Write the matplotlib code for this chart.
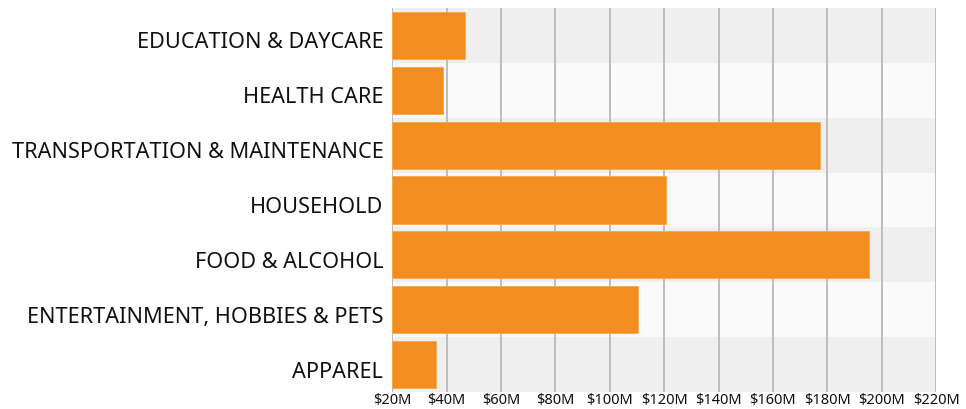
import matplotlib
matplotlib.use("Agg")
import matplotlib.pyplot as plt
from matplotlib.ticker import FuncFormatter
from matplotlib.transforms import ScaledTranslation

categories = ["EDUCATION & DAYCARE", "HEALTH CARE", "TRANSPORTATION & MAINTENANCE",
              "HOUSEHOLD", "FOOD & ALCOHOL", "ENTERTAINMENT, HOBBIES & PETS", "APPAREL"]
values = [46.7, 38.8, 177.5, 120.5, 195.4, 110.3, 36.2]
tick_values = [20, 40, 60, 80, 100, 120, 140, 160, 180, 200, 220]

plt.rcParams['font.family'] = ['Noto Sans', 'DejaVu Sans']

fig = plt.figure(figsize=(9.66, 4.09), dpi=100)
ax = fig.add_axes([392.3/966, 1-392/409, (936-392.3)/966, (392-8)/409])

n = len(categories)
ypos = list(range(n))
for i in ypos:
    ax.axhspan(i-0.5, i+0.5, color='#efefef' if i % 2 == 0 else '#fafafa', zorder=0, lw=0)
for t in tick_values:
    ax.axvline(t, color='#bdbdbd', lw=1.4, zorder=1)
ax.barh(ypos, [v - 20 for v in values], left=20, height=0.86, color='#f28e20',
        edgecolor='#f5a850', linewidth=0.6, zorder=2)

ax.set_xlim(20, 220)
ax.set_ylim(n-0.5, -0.5)
ax.set_yticks(ypos)
ax.set_yticklabels(categories, fontsize=15.6, color='#111111')
ax.set_xticks(tick_values)
ax.xaxis.set_major_formatter(FuncFormatter(lambda v, p: f"${int(v)}M"))
ax.tick_params(axis='x', labelsize=10.5, length=0, pad=1, colors='#111111')
ax.tick_params(axis='y', length=0, pad=6.5)
off = ScaledTranslation(0, -5/100, fig.dpi_scale_trans)
for lab in ax.get_yticklabels():
    lab.set_transform(lab.get_transform() + off)
for s in ax.spines.values():
    s.set_visible(False)

fig.savefig("out.png", dpi=100)
